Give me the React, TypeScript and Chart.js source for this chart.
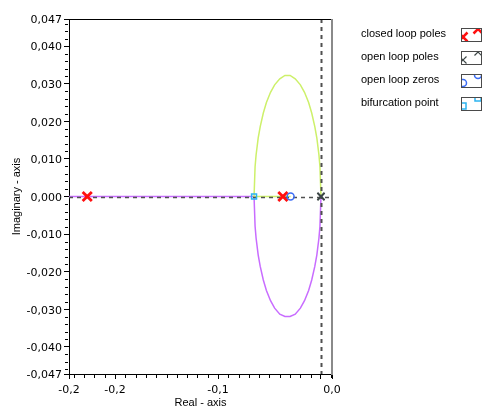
import React, { useEffect, useRef } from 'react';
import { Chart, registerables } from 'chart.js';

Chart.register(...registerables);

// ---- data ----
const legendLabels = ['closed loop poles', 'open loop poles', 'open loop zeros', 'bifurcation point'];

const closedLoopPoleRe = [-0.227, -0.037];
const closedLoopPoleIm = [0, 0];
const openLoopPoleRe = [0, 0];
const openLoopPoleIm = [0, 0];
const openLoopZeroRe = [-0.0295];
const openLoopZeroIm = [0];
const bifurcationRe = [-0.065];
const bifurcationIm = [0];

// branch 1: origin -> upper arc -> bifurcation -> zero (yellow-green)
const upperBranchRe = [0, -0.001, -0.002, -0.004, -0.006, -0.009, -0.012, -0.016, -0.02, -0.025, -0.03, -0.035, -0.04, -0.045, -0.049, -0.053, -0.056, -0.059, -0.061, -0.063, -0.064, -0.065, -0.0295];
const upperBranchIm = [0, 0.0079, 0.0111, 0.0155, 0.0186, 0.0222, 0.025, 0.0277, 0.0297, 0.0313, 0.0322, 0.0322, 0.0313, 0.0297, 0.0277, 0.025, 0.0222, 0.0186, 0.0155, 0.0111, 0.0079, 0, 0];
// branch 2: origin -> lower arc -> bifurcation -> far left (violet)
const lowerBranchRe = [0, -0.001, -0.002, -0.004, -0.006, -0.009, -0.012, -0.016, -0.02, -0.025, -0.03, -0.035, -0.04, -0.045, -0.049, -0.053, -0.056, -0.059, -0.061, -0.063, -0.064, -0.065, -0.26];
const lowerBranchIm = [0, -0.0079, -0.0111, -0.0155, -0.0186, -0.0222, -0.025, -0.0277, -0.0297, -0.0313, -0.0319, -0.0319, -0.0313, -0.0297, -0.0277, -0.025, -0.0222, -0.0186, -0.0155, -0.0111, -0.0079, 0, 0];

const xRange = [-0.2447, 0.0107];
const yRange = [-0.0472, 0.0472];
const xMajorTicks = [-0.2, -0.1, 0];
const yMajorTicks = [-0.04, -0.03, -0.02, -0.01, 0, 0.01, 0.02, 0.03, 0.04];
const xMinorStep = 0.01;
const yMinorStep = 0.002;

// ---- styles ----
const TICK_FONT = { family: "'DejaVu Sans', sans-serif", size: 11 };
const TITLE_FONT = { family: "'Liberation Sans', Arial, sans-serif", size: 11 };
const LEGEND_FONT = "11px 'Liberation Sans', Arial, sans-serif";
const COL_CLOSED = '#ff1010';
const COL_OPEN = '#3c4646';
const COL_ZERO = '#3a6cf5';
const COL_BIF = '#2cb4f0';
const COL_UPPER = '#cdf06a';
const COL_LOWER = '#c86cff';

const pts = (xs: number[], ys: number[]) => xs.map((x, i) => ({ x, y: ys[i] }));
const comma = (s: string) => s.replace('.', ',');

function drawMarker(ctx: CanvasRenderingContext2D, kind: number, x: number, y: number) {
  ctx.save();
  ctx.setLineDash([]);
  if (kind === 0) {
    ctx.strokeStyle = COL_CLOSED; ctx.lineWidth = 2.5; const r = 4.5;
    ctx.beginPath(); ctx.moveTo(x - r, y - r); ctx.lineTo(x + r, y + r); ctx.moveTo(x + r, y - r); ctx.lineTo(x - r, y + r); ctx.stroke();
  } else if (kind === 1) {
    ctx.strokeStyle = COL_OPEN; ctx.lineWidth = 1.2; const r = 3.5;
    ctx.beginPath(); ctx.moveTo(x - r, y - r); ctx.lineTo(x + r, y + r); ctx.moveTo(x + r, y - r); ctx.lineTo(x - r, y + r); ctx.stroke();
  } else if (kind === 2) {
    ctx.strokeStyle = COL_ZERO; ctx.lineWidth = 1.5;
    ctx.beginPath(); ctx.arc(x, y, 3.5, 0, Math.PI * 2); ctx.stroke();
  } else {
    ctx.strokeStyle = COL_BIF; ctx.lineWidth = 1.5;
    ctx.strokeRect(x - 3, y - 3, 6, 6);
  }
  ctx.restore();
}

const decorPlugin = {
  id: 'decor',
  afterDatasetDraw(chart: any, args: any) {
    // dashed real/imaginary axes drawn over the locus lines, under the markers
    if (args.index !== 4) return;
    const { ctx, chartArea: a, scales } = chart;
    const x0 = Math.round(scales.x.getPixelForValue(0)) + 0.5;
    const y0 = Math.round(scales.y.getPixelForValue(0)) + 0.5;
    ctx.save();
    ctx.beginPath(); ctx.rect(a.left, a.top, a.right - a.left, a.bottom - a.top); ctx.clip();
    ctx.strokeStyle = '#505050';
    ctx.setLineDash([4, 4]);
    ctx.lineWidth = 1.5;
    ctx.beginPath(); ctx.moveTo(a.left, y0); ctx.lineTo(a.right, y0); ctx.stroke();
    ctx.lineWidth = 2;
    ctx.beginPath(); ctx.moveTo(x0, a.top); ctx.lineTo(x0, a.bottom); ctx.stroke();
    ctx.restore();
  },
  afterDraw(chart: any) {
    const { ctx, chartArea: a, scales } = chart;
    ctx.save();
    // frame: top black, right gray
    ctx.strokeStyle = '#000'; ctx.lineWidth = 1;
    ctx.beginPath(); ctx.moveTo(a.left, a.top + 0.5); ctx.lineTo(a.right, a.top + 0.5); ctx.stroke();
    ctx.strokeStyle = '#8a8a8a'; ctx.lineWidth = 2;
    ctx.beginPath(); ctx.moveTo(a.right, a.top); ctx.lineTo(a.right, a.bottom + 1); ctx.stroke();
    // minor ticks
    ctx.strokeStyle = '#000'; ctx.lineWidth = 1;
    const sx = scales.x, sy = scales.y;
    for (let i = Math.ceil(xRange[0] / xMinorStep); i <= Math.floor(xRange[1] / xMinorStep); i++) {
      const v = i * xMinorStep;
      if (xMajorTicks.some((m) => Math.abs(m - v) < 1e-9)) continue;
      const px = Math.round(sx.getPixelForValue(v)) + 0.5;
      ctx.beginPath(); ctx.moveTo(px, a.bottom + 1); ctx.lineTo(px, a.bottom + 4); ctx.stroke();
    }
    for (let i = Math.ceil(yRange[0] / yMinorStep); i <= Math.floor(yRange[1] / yMinorStep); i++) {
      const v = i * yMinorStep;
      if (yMajorTicks.some((m) => Math.abs(m - v) < 1e-9)) continue;
      const py = Math.round(sy.getPixelForValue(v)) + 0.5;
      ctx.beginPath(); ctx.moveTo(a.left - 4, py); ctx.lineTo(a.left - 1, py); ctx.stroke();
    }
    // legend
    const lx = 361, bx = 461, bw = 21, bh = 14;
    legendLabels.forEach((label, i) => {
      const cy = 34 + i * 23;
      ctx.fillStyle = '#000';
      ctx.font = LEGEND_FONT;
      ctx.textBaseline = 'middle';
      ctx.textAlign = 'left';
      ctx.fillText(label, lx, cy);
      const by = cy - 6;
      ctx.fillStyle = '#fff';
      ctx.fillRect(bx, by, bw, bh);
      ctx.save();
      ctx.beginPath(); ctx.rect(bx + 1, by + 1, bw - 2, bh - 2); ctx.clip();
      drawMarker(ctx, i, bx + 2, by + 9);
      drawMarker(ctx, i, bx + 17, by + 1);
      ctx.restore();
      ctx.strokeStyle = '#4a4a4a'; ctx.lineWidth = 1; ctx.setLineDash([]);
      ctx.strokeRect(bx + 0.5, by + 0.5, bw - 1, bh - 1);
    });
    ctx.restore();
  },
};

export default function App() {
  const ref = useRef<HTMLCanvasElement>(null);
  useEffect(() => {
    if (!ref.current) return;
    const markerBase = { showLine: false, borderWidth: 1.5, pointHoverRadius: 0 };
    const chart = new Chart(ref.current, {
      type: 'scatter',
      data: {
        datasets: [
          { ...markerBase, label: legendLabels[2], data: pts(openLoopZeroRe, openLoopZeroIm), pointStyle: 'circle', pointRadius: 3.5, borderColor: COL_ZERO, backgroundColor: 'rgba(0,0,0,0)' },
          { ...markerBase, label: legendLabels[0], data: pts(closedLoopPoleRe, closedLoopPoleIm), pointStyle: 'crossRot', pointRadius: 6.5, borderWidth: 2.8, borderColor: COL_CLOSED, backgroundColor: COL_CLOSED },
          { ...markerBase, label: legendLabels[3], data: pts(bifurcationRe, bifurcationIm), pointStyle: 'rect', pointRadius: 3.5, borderColor: COL_BIF, backgroundColor: 'rgba(0,0,0,0)' },
          { ...markerBase, label: legendLabels[1], data: pts(openLoopPoleRe, openLoopPoleIm), pointStyle: 'crossRot', pointRadius: 5, borderWidth: 1.8, borderColor: COL_OPEN, backgroundColor: COL_OPEN },
          { label: 'branch 1', data: pts(upperBranchRe, upperBranchIm), showLine: true, pointRadius: 0, borderWidth: 1.5, borderColor: COL_UPPER, tension: 0 },
          { label: 'branch 2', data: pts(lowerBranchRe, lowerBranchIm), showLine: true, pointRadius: 0, borderWidth: 1.5, borderColor: COL_LOWER, tension: 0 },
        ],
      },
      options: {
        animation: false,
        responsive: false,
        events: [],
        layout: { padding: { left: 0, right: 151, top: 19, bottom: 0 } },
        plugins: { legend: { display: false }, tooltip: { enabled: false } },
        scales: {
          x: {
            type: 'linear',
            min: xRange[0],
            max: xRange[1],
            afterBuildTicks: (s: any) => { s.ticks = [xRange[0], ...xMajorTicks, xRange[1]].map((v) => ({ value: v })); },
            afterFit: (s: any) => { s.height = 36; },
            ticks: {
              autoSkip: false, maxRotation: 0, color: '#000', font: TICK_FONT, padding: 5,
              callback: (v: any) => (v === 0 ? '' : comma(Number(v).toFixed(1))),
            },
            grid: { display: true, drawOnChartArea: false, drawTicks: true, tickLength: 5, color: '#000', lineWidth: 1 },
            border: { display: true, color: '#000', width: 1 },
            title: { display: true, text: 'Real - axis', color: '#000', font: TITLE_FONT, padding: { top: 0, bottom: 0 } },
          },
          y: {
            type: 'linear',
            min: yRange[0],
            max: yRange[1],
            afterBuildTicks: (s: any) => { s.ticks = [yRange[0], ...yMajorTicks, yRange[1]].map((v) => ({ value: v })); },
            afterFit: (s: any) => { s.width = 69; },
            ticks: {
              autoSkip: false, color: '#000', font: TICK_FONT, padding: 2, labelOffset: 1.5,
              callback: (v: any) => comma(Number(v).toFixed(3)),
            },
            grid: { display: true, drawOnChartArea: false, drawTicks: true, tickLength: 5, color: '#000', lineWidth: 1 },
            border: { display: true, color: '#000', width: 1 },
            title: { display: true, text: 'Imaginary - axis', color: '#000', font: TITLE_FONT, padding: { top: 10, bottom: 0 } },
          },
        },
      },
      plugins: [decorPlugin],
    } as any);
    return () => chart.destroy();
  }, []);
  return (
    <div style={{ position: 'absolute', left: 0, top: 0, width: 483, height: 410, background: '#fff' }}>
      <canvas ref={ref} width={483} height={410} style={{ display: 'block', width: 483, height: 410 }} />
    </div>
  );
}
